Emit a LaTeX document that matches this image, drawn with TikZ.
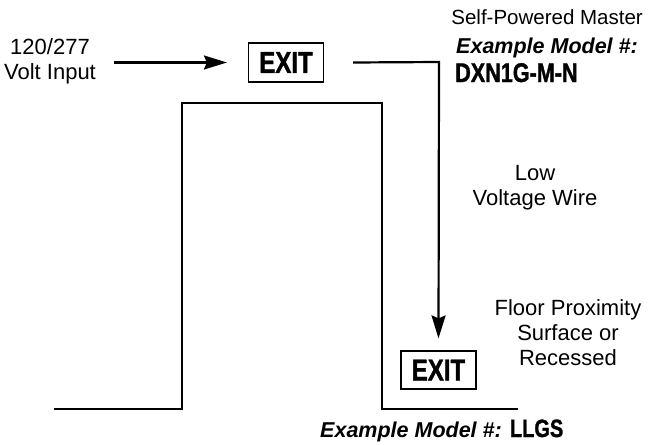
\documentclass[tikz,border=0pt]{standalone}
\usepackage{fontspec}
\setmainfont{Liberation Sans}
\newfontfamily\condfont[FakeStretch=0.8,FakeBold=1.2]{Liberation Sans Bold}
\usetikzlibrary{arrows.meta}
\tikzset{
  wall/.style={line width=2.2pt, line cap=rect},
  wire/.style={line width=2.2pt},
  tip/.style={-{Stealth[length=23pt,width=14pt,inset=3pt]}},
  exitbox/.style={draw, line width=1.2pt, minimum width=75pt, minimum height=39pt, inner sep=0pt, font=\condfont\fontsize{30}{30}\selectfont},
  lbl/.style={align=center, inner sep=0pt, font=\fontsize{22}{25}\selectfont},
}
\begin{document}
\begin{tikzpicture}[x=1pt,y=-1pt]
\useasboundingbox (0,0) rectangle (652,444);
% room outline
\draw[wall] (55,409) -- (182,409) -- (182,103) -- (382,103) -- (382,409) -- (517,409);
% exit signs
\node[exitbox] (exit1) at (286,62.5) {EXIT};
\node[exitbox, minimum height=38pt] (exit2) at (438.5,370) {EXIT};
% input
\node[lbl] (input) at (50,61.5) {120/277\\Volt Input};
\draw[wire, tip] (114,0 |- exit1.west) -- ([xshift=-21pt]exit1.west);
% low voltage wire
\coordinate (w1) at (439,62);
\draw[wire, tip] ([xshift=29pt]exit1.east) -- (w1) -- ([yshift=12pt]exit2.north);
% labels
\node[lbl] (lvw) at (535,187.5) {Low\\Voltage Wire};
\node[lbl] (floor) at (568,333) {Floor Proximity\\Surface or\\Recessed};
\node[lbl, anchor=base east, font=\fontsize{20.5}{24}\selectfont] (spm) at (643,25) {Self-Powered Master};
\node[lbl, anchor=base west, font=\bfseries\itshape\fontsize{21.5}{24}\selectfont] (ex1) at (456,53) {Example Model \#:};
\node[lbl, anchor=base west, font=\condfont\fontsize{27}{27}\selectfont] (dxn) at (455,82) {DXN1G-M-N};
\node[lbl, anchor=base west] (ex2) at (320,437) {{\bfseries\itshape\fontsize{21.5}{24}\selectfont Example Model \#:} {\condfont\fontsize{25}{25}\selectfont LLGS}};
\end{tikzpicture}
\end{document}
